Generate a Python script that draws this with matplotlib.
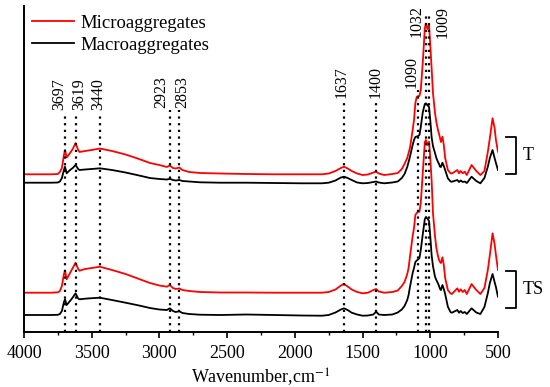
import numpy as np
import matplotlib
matplotlib.use("Agg")
import matplotlib.pyplot as plt

plt.rcParams['font.family'] = ['Liberation Serif', 'DejaVu Serif']
plt.rcParams['mathtext.fontset'] = 'stix'

# wavenumber grid (cm-1), shared by all four spectra
wavenumber = np.array([
    4000, 3800, 3750, 3735, 3720, 3705, 3697, 3685, 3660, 3640, 3619, 3600, 3590, 3550, 3500, 3440,
    3350, 3250, 3150, 3070, 3000, 2945, 2923, 2900, 2880, 2853, 2830, 2780, 2700, 2550, 2360, 2150,
    1950, 1800, 1750, 1700, 1660, 1637, 1610, 1580, 1540, 1500, 1460, 1420, 1400, 1380, 1340, 1280,
    1240, 1210, 1190, 1170, 1160, 1150, 1130, 1120, 1110, 1100, 1090, 1080, 1070, 1055, 1040, 1032,
    1021, 1009, 1000, 990, 980, 965, 955, 943, 935, 928, 921, 910, 900, 890, 870, 850, 840, 800,
    788, 775, 760, 745, 730, 695, 660, 630, 600, 575, 560, 540, 525, 515, 500])

# absorbance (a.u., stacked)
t_micro = np.array([
    1.577, 1.577, 1.58, 1.60, 1.64, 1.77, 1.82, 1.745, 1.79, 1.83, 1.89, 1.82, 1.80, 1.81, 1.82, 1.835,
    1.81, 1.775, 1.73, 1.69, 1.67, 1.65, 1.665, 1.64, 1.635, 1.645, 1.62, 1.60, 1.59, 1.585, 1.58, 1.577,
    1.577, 1.577, 1.585, 1.61, 1.64, 1.653, 1.635, 1.61, 1.585, 1.57, 1.575, 1.595, 1.603, 1.585, 1.57, 1.58,
    1.59, 1.63, 1.68, 1.74, 1.79, 1.84, 2.02, 2.12, 2.29, 2.35, 2.36, 2.36, 2.42, 2.70, 3.04, 3.085,
    3.03, 3.07, 2.87, 2.64, 2.39, 2.19, 2.10, 2.02, 1.98, 1.94, 1.90, 1.953, 1.87, 1.74, 1.62, 1.587, 1.585, 1.62,
    1.587, 1.61, 1.587, 1.603, 1.57, 1.67, 1.61, 1.57, 1.61, 1.80, 1.94, 2.137, 2.04, 1.92, 1.803])

t_macro = np.array([
    1.493, 1.493, 1.495, 1.505, 1.54, 1.62, 1.653, 1.587, 1.62, 1.64, 1.67, 1.63, 1.62, 1.625, 1.63, 1.637,
    1.62, 1.595, 1.565, 1.54, 1.53, 1.525, 1.532, 1.52, 1.515, 1.52, 1.51, 1.505, 1.497, 1.493, 1.493, 1.49,
    1.487, 1.487, 1.493, 1.515, 1.545, 1.553, 1.54, 1.52, 1.495, 1.487, 1.49, 1.50, 1.505, 1.495, 1.487, 1.495,
    1.505, 1.54, 1.58, 1.65, 1.70, 1.753, 1.87, 1.92, 1.95, 1.955, 1.96, 1.97, 2.05, 2.20, 2.28, 2.287,
    2.27, 2.25, 2.12, 1.95, 1.86, 1.79, 1.74, 1.70, 1.68, 1.653, 1.65, 1.693, 1.66, 1.62, 1.537, 1.505, 1.503, 1.52,
    1.50, 1.515, 1.50, 1.505, 1.49, 1.553, 1.51, 1.487, 1.54, 1.653, 1.74, 1.82, 1.74, 1.69, 1.62])

ts_micro = np.array([
    0.393, 0.393, 0.397, 0.41, 0.46, 0.58, 0.613, 0.527, 0.59, 0.64, 0.693, 0.63, 0.613, 0.63, 0.64, 0.653,
    0.62, 0.58, 0.53, 0.49, 0.465, 0.453, 0.47, 0.44, 0.43, 0.435, 0.42, 0.41, 0.40, 0.395, 0.395, 0.393,
    0.393, 0.393, 0.40, 0.425, 0.465, 0.48, 0.455, 0.425, 0.40, 0.387, 0.393, 0.42, 0.43, 0.405, 0.393, 0.40,
    0.415, 0.46, 0.50, 0.58, 0.64, 0.753, 0.96, 1.04, 1.17, 1.19, 1.20, 1.203, 1.29, 1.60, 1.90, 1.92,
    1.87, 1.903, 1.74, 1.52, 1.19, 0.96, 0.84, 0.76, 0.72, 0.70, 0.69, 0.747, 0.67, 0.54, 0.42, 0.385, 0.38, 0.437,
    0.403, 0.427, 0.40, 0.42, 0.38, 0.48, 0.42, 0.38, 0.44, 0.62, 0.77, 0.987, 0.88, 0.77, 0.62])

ts_macro = np.array([
    0.17, 0.17, 0.172, 0.18, 0.21, 0.30, 0.327, 0.27, 0.31, 0.345, 0.387, 0.335, 0.327, 0.333, 0.338, 0.343,
    0.32, 0.293, 0.265, 0.24, 0.225, 0.22, 0.237, 0.21, 0.20, 0.207, 0.19, 0.18, 0.173, 0.17, 0.175, 0.17,
    0.165, 0.163, 0.17, 0.195, 0.225, 0.237, 0.22, 0.193, 0.175, 0.163, 0.165, 0.175, 0.203, 0.175, 0.17, 0.175,
    0.195, 0.225, 0.26, 0.32, 0.37, 0.45, 0.59, 0.64, 0.70, 0.715, 0.725, 0.74, 0.82, 0.98, 1.13, 1.147,
    1.135, 1.11, 0.96, 0.77, 0.66, 0.553, 0.52, 0.487, 0.46, 0.43, 0.42, 0.47, 0.43, 0.38, 0.253, 0.198, 0.193, 0.22,
    0.193, 0.21, 0.19, 0.20, 0.18, 0.237, 0.195, 0.18, 0.25, 0.387, 0.49, 0.58, 0.50, 0.45, 0.353])

# marked bands
peaks = [3697, 3619, 3440, 2923, 2853, 1637, 1400, 1090, 1032, 1009]
peak_line_top = [2.19, 2.19, 2.19, 2.22, 2.22, 2.32, 2.32, 2.42, 3.20, 3.20]
peak_label_y = [2.22, 2.22, 2.22, 2.24, 2.24, 2.34, 2.34, 2.44, 2.95, 2.94]
peak_label_dx = [-4.5, 3, -1, -6, 2, -1.5, 0, -4.5, -6.5, 10]  # points

groups = ['T', 'TS']
group_span = [(1.58, 1.95), (0.24, 0.61)]

fig = plt.figure(figsize=(5.5, 3.87), dpi=100)
ax = fig.add_axes([0.0436, 0.1421, 0.8618, 0.8424])

ax.plot(wavenumber, t_micro, color='red', lw=1.3, label='Microaggregates')
ax.plot(wavenumber, t_macro, color='black', lw=1.3, label='Macroaggregates')
ax.plot(wavenumber, ts_micro, color='red', lw=1.3)
ax.plot(wavenumber, ts_macro, color='black', lw=1.3)

for wn, top, ly, dx in zip(peaks, peak_line_top, peak_label_y, peak_label_dx):
    ax.plot([wn, wn], [0, top], color='black', lw=1.6, linestyle=(0, (1, 2)))
    ax.annotate(str(wn), xy=(wn, ly), xytext=(dx, 0), textcoords='offset points',
                rotation=90, ha='center', va='bottom', fontsize=11.5)

for name, (lo, hi) in zip(groups, group_span):
    ax.plot([441, 367, 367, 441], [hi, hi, lo, lo], color='black', lw=1.3, clip_on=False)
    ax.text(320, (lo + hi) / 2, name, ha='left', va='center', fontsize=13, clip_on=False)

ax.set_xlim(4000, 500)
ax.set_ylim(0, 3.26)
ax.set_xticks(np.arange(4000, 499, -500))
ax.set_xticks(np.arange(3750, 500, -500), minor=True)
ax.tick_params(axis='x', which='major', direction='out', length=4, width=1.2, labelsize=13, pad=5)
ax.tick_params(axis='x', which='minor', direction='out', length=2, width=1.0)
ax.set_yticks([])
for side in ['top', 'right']:
    ax.spines[side].set_visible(False)
for side in ['left', 'bottom']:
    ax.spines[side].set_linewidth(1.4)

ax.set_xlabel('Wavenumber,cm$^{-1}$', fontsize=13, labelpad=3)

ax.legend(loc='upper left', bbox_to_anchor=(0.0, 1.0), frameon=False, fontsize=13.5,
          handlelength=2.2, handletextpad=0.35, labelspacing=0.28, borderaxespad=0.25,
          borderpad=0.2)

fig.savefig('out.png', dpi=100)
